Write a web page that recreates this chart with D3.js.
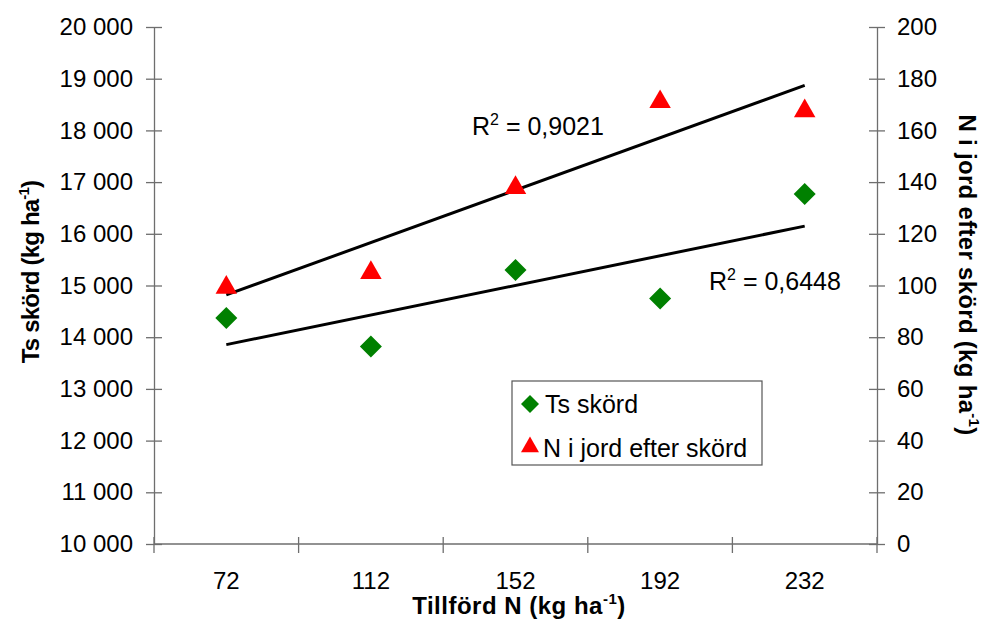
<!DOCTYPE html>
<html>
<head>
<meta charset="utf-8">
<script src="https://cdn.jsdelivr.net/npm/d3@7"></script>
<style>
  body { margin: 0; background: #fff; }
  text { font-family: "Liberation Sans", Arial, sans-serif; }
</style>
</head>
<body>
<div id="chart"></div>
<script>
// Data
const categories = ["72", "112", "152", "192", "232"];
const tsSkord = [14370, 13820, 15300, 14750, 16770];
const nJord = [100, 105.7, 138.6, 171.8, 168.3];
const leftTicks = [10000, 11000, 12000, 13000, 14000, 15000, 16000, 17000, 18000, 19000, 20000];
const rightTicks = [0, 20, 40, 60, 80, 100, 120, 140, 160, 180, 200];
const r2Labels = ["0,9021", "0,6448"];

const svg = d3.select("#chart").append("svg")
    .attr("width", 984).attr("height", 621);

const margin = {top: 27, bottom: 77, left: 154, right: 107};
const width = 984 - margin.left - margin.right;
const height = 621 - margin.top - margin.bottom;
const chart = svg.append("g").attr("transform", `translate(${margin.left},${margin.top})`);

const x = d3.scaleBand().domain(categories).range([0, width]);
const yLeft = d3.scaleLinear().domain([10000, 20000]).range([height, 0]);
const yRight = d3.scaleLinear().domain([0, 200]).range([height, 0]);
const axisColor = "#6e6e6e";
const fmt = d => d3.format(",")(d).replace(/,/g, " ");

// Axes
const leftAxis = chart.append("g")
    .call(d3.axisLeft(yLeft).tickValues(leftTicks).tickFormat(fmt).tickSizeInner(8).tickSizeOuter(0).tickPadding(13));
const rightAxis = chart.append("g").attr("transform", `translate(${width},0)`)
    .call(d3.axisRight(yRight).tickValues(rightTicks).tickSizeInner(8).tickSizeOuter(0).tickPadding(12));
[leftAxis, rightAxis].forEach(a => {
    a.select(".domain").attr("stroke", axisColor).attr("stroke-width", 1.3);
    a.selectAll(".tick line").attr("stroke", axisColor).attr("stroke-width", 1.3);
    a.selectAll(".tick text").attr("font-size", 24).attr("fill", "#000")
        .attr("font-family", "Liberation Sans, Arial, sans-serif");
});
// cross-over ticks
leftAxis.selectAll(".tick").append("line").attr("x2", 8).attr("stroke", axisColor).attr("stroke-width", 1.3);
rightAxis.selectAll(".tick").append("line").attr("x2", -8).attr("stroke", axisColor).attr("stroke-width", 1.3);

// x axis: ticks between categories
const xAxisG = chart.append("g").attr("transform", `translate(0,${height})`);
xAxisG.append("line").attr("x1", 0).attr("x2", width)
    .attr("stroke", axisColor).attr("stroke-width", 1.3);
const boundaries = categories.map(c => x(c)).concat([width]);
xAxisG.selectAll(".xt").data(boundaries).join("line")
    .attr("x1", d => d).attr("x2", d => d).attr("y1", -7).attr("y2", 9)
    .attr("stroke", axisColor).attr("stroke-width", 1.3);
xAxisG.selectAll(".xl").data(categories).join("text")
    .attr("x", d => x(d) + x.bandwidth() / 2).attr("y", 45)
    .attr("text-anchor", "middle").attr("font-size", 24).text(d => d);

// Trendlines (linear regression on category index 1..n)
function regression(vals) {
    const xs = vals.map((v, i) => i + 1);
    const mx = d3.mean(xs), my = d3.mean(vals);
    const slope = d3.sum(xs, (xi, i) => (xi - mx) * (vals[i] - my)) / d3.sum(xs, xi => (xi - mx) ** 2);
    return i => my + slope * (i + 1 - mx);
}
const cx = d => x(d) + x.bandwidth() / 2;
const regN = regression(nJord);
const regT = regression(tsSkord);
const last = categories.length - 1;
chart.append("line")
    .attr("x1", cx(categories[0])).attr("y1", yRight(regN(0)))
    .attr("x2", cx(categories[last])).attr("y2", yRight(regN(last)))
    .attr("stroke", "#000").attr("stroke-width", 3);
chart.append("line")
    .attr("x1", cx(categories[0])).attr("y1", yLeft(regT(0)))
    .attr("x2", cx(categories[last])).attr("y2", yLeft(regT(last)))
    .attr("stroke", "#000").attr("stroke-width", 3);

// Markers
const diamond = d3.symbol().type(d3.symbolSquare).size(242);
const triangle = d3.symbol().type(d3.symbolTriangle).size(200);
chart.selectAll(".ts").data(tsSkord).join("path")
    .attr("d", diamond)
    .attr("transform", (d, i) => `translate(${cx(categories[i])},${yLeft(d)}) rotate(45)`)
    .attr("fill", "#008000");
chart.selectAll(".nj").data(nJord).join("path")
    .attr("d", triangle)
    .attr("transform", (d, i) => `translate(${cx(categories[i])},${yRight(d) + 2})`)
    .attr("fill", "#ff0000");

// R² labels
function r2(g, xPos, yPos, val) {
    const t = g.append("text").attr("x", xPos).attr("y", yPos).attr("font-size", 25);
    t.append("tspan").text("R");
    t.append("tspan").attr("font-size", 16).attr("dy", -10).text("2");
    t.append("tspan").attr("dy", 10).text(" = " + val);
}
r2(chart, 472 - margin.left, 135 - margin.top, r2Labels[0]);
r2(chart, 709 - margin.left, 290 - margin.top, r2Labels[1]);

// Legend
const lg = svg.append("g").attr("transform", "translate(512,381)");
lg.append("rect").attr("width", 250).attr("height", 84)
    .attr("fill", "#fff").attr("stroke", "#555").attr("stroke-width", 1.2);
lg.append("path").attr("d", d3.symbol().type(d3.symbolSquare).size(162))
    .attr("transform", "translate(18,23) rotate(45)").attr("fill", "#008000");
lg.append("text").attr("x", 33).attr("y", 32).attr("font-size", 25).text("Ts skörd");
lg.append("path").attr("d", d3.symbol().type(d3.symbolTriangle).size(140))
    .attr("transform", "translate(18,66)").attr("fill", "#ff0000");
lg.append("text").attr("x", 31).attr("y", 76).attr("font-size", 25).text("N i jord efter skörd");

// Axis titles
function title(g, txt, attrs, spacing) {
    const t = g.append("text").attr("font-size", 24).attr("font-weight", "bold")
        .attr("text-anchor", "middle").attr("letter-spacing", spacing);
    Object.entries(attrs).forEach(([k, v]) => t.attr(k, v));
    t.append("tspan").text(txt + " (kg ha");
    t.append("tspan").attr("font-size", 15).attr("dy", -10).text("-1");
    t.append("tspan").attr("dy", 10).text(")");
    return t;
}
title(svg, "Ts skörd", {transform: "translate(39,272) rotate(-90)"}, -0.8);
title(svg, "N i jord efter skörd", {transform: "translate(959,275) rotate(90)"}, 0.3);
title(svg, "Tillförd N", {transform: "translate(519,614)"}, 0.5);
</script>
</body>
</html>
